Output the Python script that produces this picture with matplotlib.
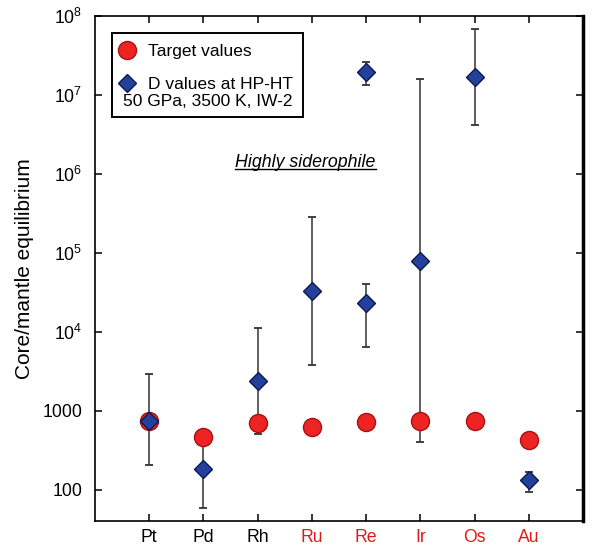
import numpy as np
import matplotlib
matplotlib.use("Agg")
import matplotlib.pyplot as plt
from matplotlib.lines import Line2D
from matplotlib.patches import Rectangle

plt.rcParams['font.family'] = ['Liberation Sans', 'DejaVu Sans']
plt.rcParams['mathtext.fontset'] = 'custom'
plt.rcParams['mathtext.rm'] = 'Liberation Sans'
plt.rcParams['mathtext.it'] = 'Liberation Sans:italic'

# Data
elements = ['Pt', 'Pd', 'Rh', 'Ru', 'Re', 'Ir', 'Os', 'Au']
label_colors = ['black', 'black', 'black', '#e01b1b', '#e01b1b', '#e01b1b', '#e01b1b', '#e01b1b']
target_values = [750, 466, 700, 630, 710, 750, 730, 430]

# D values at HP-HT (Re has two points)
d_elements = ['Pt', 'Pd', 'Rh', 'Ru', 'Re', 'Re', 'Ir', 'Os', 'Au']
d_values = [750, 184, 2350, 3.3e4, 2.33e4, 1.97e7, 7.8e4, 1.69e7, 131]
d_upper = [2900, 466, 1.1e4, 2.86e5, 4.0e4, 2.65e7, 1.6e7, 6.9e7, 167]
d_lower = [205, 59, 510, 3.8e3, 6.5e3, 1.32e7, 397, 4.2e6, 92]

ytick_vals = [100, 1000, 1e4, 1e5, 1e6, 1e7, 1e8]
ytick_labels = ['100', '1000', r'$\mathregular{10^{4}}$', r'$\mathregular{10^{5}}$',
                r'$\mathregular{10^{6}}$', r'$\mathregular{10^{7}}$', r'$\mathregular{10^{8}}$']

x = np.arange(1, len(elements) + 1)
pos = {e: i for e, i in zip(elements, x)}
dx = np.array([pos[e] for e in d_elements])
d_values = np.array(d_values)
yerr = [d_values - np.array(d_lower), np.array(d_upper) - d_values]

fig = plt.figure(figsize=(5.97, 5.5), dpi=100)
ax = fig.add_axes([0.1591, 0.0527, 0.8174, 0.9182])

red = '#ee2424'
navy = '#24409a'

ax.errorbar(dx, d_values, yerr=yerr, fmt='none', ecolor='#333333', elinewidth=1.1,
            capsize=3, capthick=1.3, zorder=2)
ax.plot(x, target_values, 'o', ms=13, mfc=red, mec='#a81010', mew=1.0, ls='none', zorder=3,
        label='Target values')
ax.plot(dx, d_values, 'D', ms=9.5, mfc=navy, mec='#0b1a55', mew=1.0, ls='none', zorder=4,
        label='D values at HP-HT')

ax.set_yscale('log')
ax.set_ylim(40, 1e8)
ax.set_xlim(0, 9)
ax.set_yticks(ytick_vals)
ax.set_yticklabels(ytick_labels)
ax.yaxis.set_minor_locator(matplotlib.ticker.NullLocator())
ax.set_xticks(x)
ax.set_xticklabels(elements)
for lbl, c in zip(ax.get_xticklabels(), label_colors):
    lbl.set_color(c)

ax.tick_params(axis='both', which='both', direction='in', length=5, width=1.1,
               top=True, right=True, labelsize=12.7)
ax.tick_params(axis='x', pad=6)
ax.tick_params(axis='y', pad=9)
for side in ['left', 'top', 'bottom']:
    ax.spines[side].set_linewidth(1.2)
ax.spines['right'].set_linewidth(2.5)

ax.set_ylabel('Core/mantle equilibrium', fontsize=15, labelpad=6)

# Legend box with the extra conditions line
leg = ax.legend(loc='upper left', bbox_to_anchor=(0.026, 0.958), frameon=False,
                fontsize=12.5, handletextpad=0.5, labelspacing=1.0, handlelength=1.4,
                borderaxespad=0)
ax.text(0.232, 0.8303, '50 GPa, 3500 K, IW-2', transform=ax.transAxes, fontsize=12.5,
        ha='center', va='center')
ax.add_patch(Rectangle((0.0342, 0.80), 0.392, 0.1663, transform=ax.transAxes,
                       fill=False, ec='black', lw=1.4, zorder=5))

# Underlined italic annotation
t = ax.text(3.88, 1.4e6, 'Highly siderophile', fontsize=12.8, style='italic',
            ha='center', va='center')
fig.canvas.draw()
bb = t.get_window_extent(fig.canvas.get_renderer())
inv = fig.transFigure.inverted()
(x0, y0), (x1, _) = inv.transform([(bb.x0, bb.y0 + 2), (bb.x1, bb.y0)])
fig.add_artist(Line2D([x0, x1], [y0, y0], transform=fig.transFigure, color='black', lw=1.0))

fig.savefig('out.png', dpi=100)
